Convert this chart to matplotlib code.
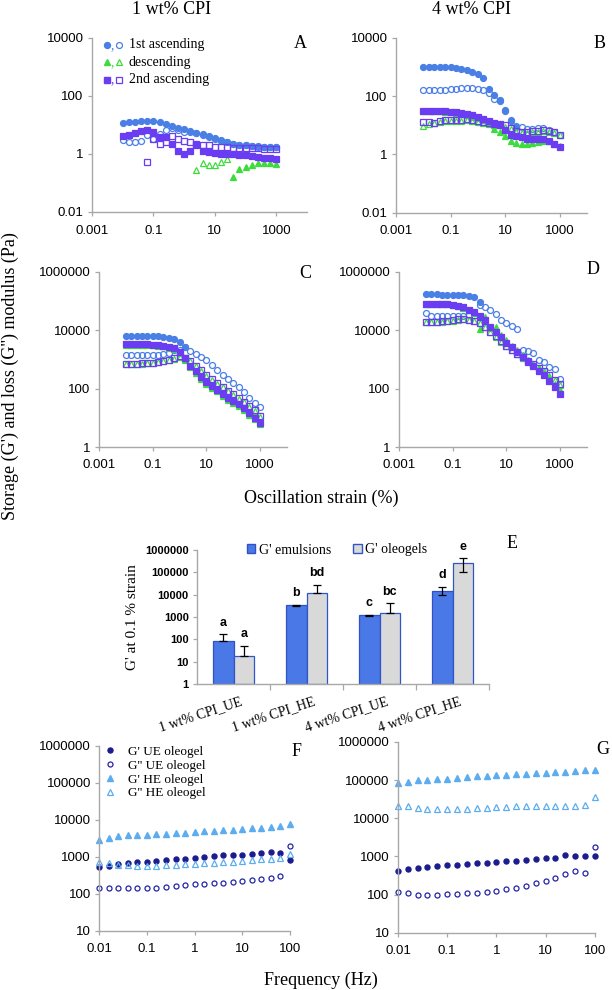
import numpy as np
import matplotlib.pyplot as plt
from matplotlib.ticker import FixedLocator, FixedFormatter, NullLocator
from matplotlib.patches import Patch

nan = np.nan
SERIF = 'Liberation Serif'
SANS = 'Liberation Sans'
plt.rcParams['font.family'] = SANS

# ---- x grids ----
strain = [0.01, 0.0158, 0.0251, 0.0398, 0.0631, 0.1, 0.158, 0.251, 0.398, 0.631,
          1.0, 1.58, 2.51, 3.98, 6.31, 10.0, 15.8, 25.1, 39.8, 63.1,
          100.0, 158, 251, 398, 631, 1000]
freq = [0.01, 0.0158, 0.0251, 0.0398, 0.0631, 0.1, 0.158, 0.251, 0.398, 0.631,
        1.0, 1.58, 2.51, 3.98, 6.31, 10.0, 15.8, 25.1, 39.8, 63.1, 100.0]

# ---- panel A: 1 wt% CPI emulsion ----
a_asc1_g1 = [11.5, 12.5, 13, 13.5, 14, 14, 13, 11, 9.2, 8.0, 7.0, 6.0, 5.5, 5.0, 4.2, 3.6,
             3.0, 2.6, 2.3, 2.1, 2.0, 1.9, 1.9, 1.8, 1.8, 1.8]
a_asc1_g2 = [3.0, 2.6, 2.6, 2.7, 4.4, 3.4, 5.0, 6.7, 7.7, 6.8, 5.9, 5.6, 5.2, 4.6, 4.0, 3.2,
             2.8, 2.5, 2.3, 2.1, 2.0, 1.9, 1.8, 1.8, 1.7, 1.7]
a_desc_g1 = [nan] * 18 + [0.16, 0.3, 0.37, 0.42, 0.48, 0.5, 0.48, 0.45]
a_desc_g2 = [nan] * 12 + [0.27, 0.48, 0.42, 0.42, 0.52, 0.65] + [nan] * 8
a_asc2_g1 = [4.2, 4.6, 5.5, 6.2, 6.9, 5.9, 4.0, 3.8, 2.2, 1.3, 1.0, 1.3, 2.0, 1.3, 1.2, 1.1,
             1.0, 1.0, 1.0, 0.95, 0.9, 0.85, 0.8, 0.75, 0.7, 0.65]
a_asc2_g2 = [nan] * 4 + [0.55, 3.2, 2.2, 2.6, 4.2, 3.3, 2.8, 2.5, 2.2, 2.0, 2.0, 1.8,
                         1.7, 1.7, 1.6, 1.6, 1.6, 1.6, 1.6, 1.5, 1.5, 1.5]

# ---- panel B: 4 wt% CPI emulsion ----
b_asc1_g1 = [1000, 1000, 1000, 1000, 1000, 990, 935, 860, 770, 680, 590, 425, 178, 113, 76, 33,
             14.6, 8.9] + [nan] * 8
b_asc1_g2 = [160, 158, 160, 165, 168, 172, 178, 186, 190, 190, 182, 168, 130, 81, 67, 30,
             15.8, 9.8, 8.9, 7.7, 7.7, 8.0, 8.0, 7.0, 5.8, 4.7]
b_desc_g1 = [30, 30, 30, 30, 29, 28, 27, 25, 23, 20, 18, 15, 12, 7.5, 5.8, 4.2,
             3.0, 2.4, 2.2, 2.2, 2.4, 2.7, 3.0, 2.8, 2.3, 1.9]
b_desc_g2 = [9.3, 11, 12, 13, 14, 14.5, 14.5, 14.5, 15, 14, 13, 12, 11.5, 10.5, 10, 9,
             7.5, 6, 5.5, 5.5, 5.8, 6.0, 6.5, 6.0, 5.5, 4.5]
b_asc2_g1 = [32, 32, 32, 31.5, 30, 29, 28, 27, 25, 23, 20, 16, 14, 12, 10.5, 7.2,
             4.8, 4.3, 4.0, 3.5, 3.5, 3.5, 3.3, 3.0, 2.2, 1.8]
b_asc2_g2 = [12.7, 12.9, 12.5, 14.6, 15.5, 15.5, 15, 15, 16.6, 15, 14, 12.7, 12.5, 11, 11, 10,
             8, 6.5, 5.9, 5.9, 6.2, 6.3, 6.9, 6.3, 5.8, 4.6]

# ---- panel C: 1 wt% CPI oleogel ----
c_asc1_g1 = [6500, 6500, 6500, 6400, 6400, 6300, 6200, 6000, 5600, 5000, 4000, 2700] + [nan] * 14
c_asc1_g2 = [1400, 1400, 1400, 1400, 1420, 1450, 1450, 1500, 1700, 2100, 2200, 2600, 2000, 1500,
             1200, 950, 650, 420, 290, 210, 160, 110, 75, 48, 33, 24]
c_desc_g1 = [3200, 3200, 3150, 3100, 3100, 3050, 3000, 2800, 2500, 2300, 1650, 950, 540, 340,
             215, 145, 108, 80, 56, 42, 32, 25, 18, 13, 9, 6]
c_desc_g2 = [680, 690, 700, 720, 740, 760, 800, 880, 980, 1080, 1250, 1100, 860, 590, 400, 275,
             200, 148, 110, 80, 60, 45, 34, 24, 17, 11]
c_asc2_g1 = [3400, 3400, 3350, 3300, 3300, 3250, 3200, 3000, 2700, 2500, 1830, 1100, 620, 400,
             250, 165, 125, 92, 65, 48, 37, 29, 21, 15, 10, 6.8]
c_asc2_g2 = [700, 700, 720, 740, 760, 780, 820, 900, 1000, 1100, 1300, 1150, 900, 620, 420, 290,
             210, 155, 115, 85, 64, 48, 36, 26, 18, 12]

# ---- panel D: 4 wt% CPI oleogel ----
d_asc1_g1 = [170000, 170000, 170000, 168000, 166000, 165000, 162000, 158000, 152000, 140000,
             92000] + [nan] * 15
d_asc1_g2 = [38000, 31000, 32000, 32000, 31000, 31000, 31000, 32000, 33000, 38000, 73000, 62000,
             49000, 36000, 23500, 17400, 14500, 11500, 2200, 2000, 1620, 1000, 830, 540, 460, 209]
d_desc_g1 = [80000, 80000, 79000, 78000, 77000, 74000, 68000, 60000, 48000, 40000, 11500, 29000,
             12000, 13000, 7000, 4500, 3000, 2100, 1450, 1000, 700, 500, 350, 230, 150, 90]
d_desc_g2 = [19000, 19000, 19500, 20000, 20500, 21000, 23000, 24000, 22500, 20500, 17500, 13000,
             8500, 6000, 4100, 2900, 2050, 1550, 1150, 870, 680, 500, 390, 280, 195, 135]
d_asc2_g1 = [83000, 83000, 82000, 81000, 80000, 76000, 70000, 63000, 51000, 43000, 31000, 22400,
             13200, 8900, 5700, 3700, 2600, 1830, 1230, 830, 590, 410, 295, 186, 117, 66]
d_asc2_g2 = [19500, 19500, 20000, 20500, 21000, 22000, 24000, 25000, 23000, 21000, 18000, 13500,
             8800, 6200, 4200, 3000, 2100, 1600, 1200, 900, 700, 520, 400, 290, 200, 140]

# ---- panel E: G' at 0.1 % strain ----
e_groups = ['1 wt% CPI_UE', '1 wt% CPI_HE', '4 wt% CPI_UE', '4 wt% CPI_HE']
e_emul = [85, 3400, 1180, 14800]
e_emul_lo = [0, 150, 50, 5000]
e_emul_hi = [85, 150, 50, 7600]
e_emul_txt = ['a', 'b', 'c', 'd']
e_oleo = [16.5, 11500, 1560, 270000]
e_oleo_lo = [0, 0, 0, 170000]
e_oleo_hi = [34, 17000, 2500, 165000]
e_oleo_txt = ['a', 'bd', 'bc', 'e']

# ---- panels F, G: frequency sweeps ----
f_ue_g1 = [540, 560, 620, 660, 730, 730, 780, 830, 850, 870, 940, 960, 1050, 1080, 1100, 1120,
           1180, 1280, 1350, 1280, 800]
f_ue_g2 = [140, 140, 140, 140, 145, 145, 145, 155, 160, 170, 180, 180, 190, 200, 210, 220,
           240, 250, 270, 300, 1900]
f_he_g1 = [2800, 3300, 3600, 3800, 3800, 3900, 4100, 4200, 4400, 4500, 4700, 4800, 5000, 5200,
           5300, 5500, 5800, 6100, 6300, 6600, 7600]
f_he_g2 = [730, 660, 600, 600, 570, 565, 565, 590, 600, 620, 640, 660, 680, 700, 720, 760,
           800, 850, 880, 900, 1180]
g_ue_g1 = [425, 460, 490, 520, 560, 600, 610, 640, 660, 690, 700, 750, 780, 810, 860, 890,
           930, 1100, 1030, 1040, 1000]
g_ue_g2 = [115, 108, 100, 100, 100, 103, 105, 108, 112, 120, 127, 137, 150, 171, 195, 230,
           270, 340, 415, 360, 1740]
g_he_g1 = [83000, 92000, 98000, 103000, 107000, 110000, 116000, 121000, 126000, 131000, 134000,
           140000, 143000, 146000, 152000, 155000, 162000, 165000, 172000, 179000, 190000]
g_he_g2 = [20500, 21500, 19000, 18000, 18000, 17500, 17500, 18000, 18500, 19000, 19500, 20000,
           20500, 20500, 21000, 21000, 21500, 21500, 21500, 22000, 36000]

BLUE = '#4a7fe6'
GREEN = '#3ddc3d'
PURPLE = '#6a3cf2'
NAVY = '#1c1c8e'
SKY = '#5cadf0'
AXC = '#a8a8a8'

fig = plt.figure(figsize=(6.12, 9.9), dpi=100)


def px_axes(l, t, r, b):
    return fig.add_axes([l / 612, 1 - b / 990, (r - l) / 612, (b - t) / 990])


def style(ax, xt, xtl, yt, ytl, xlim, ylim, fs=9.5, logx=True, bold=False):
    if logx:
        ax.set_xscale('log')
    ax.set_yscale('log')
    ax.set_xlim(xlim)
    ax.set_ylim(ylim)
    if xt is not None:
        ax.xaxis.set_major_locator(FixedLocator(xt))
        ax.xaxis.set_major_formatter(FixedFormatter(xtl))
        ax.xaxis.set_minor_locator(NullLocator())
    ax.yaxis.set_major_locator(FixedLocator(yt))
    ax.yaxis.set_major_formatter(FixedFormatter(ytl))
    ax.yaxis.set_minor_locator(NullLocator())
    for s in ['top', 'right']:
        ax.spines[s].set_visible(False)
    for s in ['left', 'bottom']:
        ax.spines[s].set_color(AXC)
        ax.spines[s].set_linewidth(1.0)
    ax.tick_params(axis='both', direction='out', length=3, width=0.9, color=AXC,
                   labelsize=fs, labelcolor='black')
    ax.tick_params(axis='x', pad=6)
    ax.tick_params(axis='y', pad=3)
    for lab in ax.get_xticklabels() + ax.get_yticklabels():
        lab.set_family(SANS)
        if bold:
            lab.set_fontweight('bold')
    ax.patch.set_alpha(0)


def sweep(ax, data):
    specs = [(BLUE, 'o', True, 4.3), (BLUE, 'o', False, 4.3),
             (GREEN, '^', True, 5.0), (GREEN, '^', False, 5.0),
             (PURPLE, 's', True, 4.3), (PURPLE, 's', False, 4.3)]
    for y, (c, m, filled, ms) in zip(data, specs):
        ax.plot(strain, y, ls='none', marker=m, ms=ms, mec=c, mew=0.9,
                mfc=c if filled else 'none', clip_on=False)


sx = [0.001, 0.1, 10, 1000]
sxl = ['0.001', '0.1', '10', '1000']

axA = px_axes(92, 38, 307, 212)
sweep(axA, [a_asc1_g1, a_asc1_g2, a_desc_g1, a_desc_g2, a_asc2_g1, a_asc2_g2])
style(axA, sx, sxl, [0.01, 1, 100, 10000], ['0.01', '1', '100', '10000'], (0.001, 10000), (0.01, 10000))

axB = px_axes(396, 38, 587, 212.7)
sweep(axB, [b_asc1_g1, b_asc1_g2, b_desc_g1, b_desc_g2, b_asc2_g1, b_asc2_g2])
style(axB, sx, sxl, [0.01, 1, 100, 10000], ['0.01', '1', '100', '10000'], (0.001, 10000), (0.01, 10000))

axC = px_axes(99, 272, 287, 447)
sweep(axC, [c_asc1_g1, c_asc1_g2, c_desc_g1, c_desc_g2, c_asc2_g1, c_asc2_g2])
style(axC, sx, sxl, [1, 100, 10000, 1000000], ['1', '100', '10000', '1000000'], (0.001, 10000), (1, 1e6))

axD = px_axes(399, 272, 587, 447)
sweep(axD, [d_asc1_g1, d_asc1_g2, d_desc_g1, d_desc_g2, d_asc2_g1, d_asc2_g2])
style(axD, sx, sxl, [1, 100, 10000, 1000000], ['1', '100', '10000', '1000000'], (0.001, 10000), (1, 1e6))

# legend of panel A (marker, comma, marker, label)
leg_rows = [(BLUE, 'o', 4.3, '1st ascending'), (GREEN, '^', 5.0, 'descending'),
            (PURPLE, 's', 4.3, '2nd ascending')]
for k, (c, m, ms, lab) in enumerate(leg_rows):
    yy = 0.960 - 0.100 * k
    axA.plot([0.068], [yy], transform=axA.transAxes, marker=m, ms=ms, mfc=c, mec=c, clip_on=False)
    axA.text(0.094, yy - 0.022, ',', transform=axA.transAxes, color=c, fontsize=10,
             family=SERIF, ha='center', va='baseline')
    axA.plot([0.124], [yy], transform=axA.transAxes, marker=m, ms=ms, mfc='none', mec=c,
             mew=0.9, clip_on=False)
    axA.text(0.172, yy, lab, transform=axA.transAxes, fontsize=10, family=SERIF,
             ha='left', va='center')

# ---- panel E ----
axE = px_axes(197, 550, 489, 684)
xpos = np.arange(len(e_groups))
w = 0.28
axE.bar(xpos - w / 2, e_emul, w, bottom=1, color='#4a78e6', edgecolor='#2f52c4', linewidth=0.9,
        yerr=[e_emul_lo, e_emul_hi], capsize=3, error_kw=dict(elinewidth=0.9, capthick=0.9, ecolor='black'),
        label="G' emulsions")
axE.bar(xpos + w / 2, e_oleo, w, bottom=1, color='#d9d9d9', edgecolor='#2f55c8', linewidth=0.9,
        yerr=[e_oleo_lo, e_oleo_hi], capsize=3, error_kw=dict(elinewidth=0.9, capthick=0.9, ecolor='black'),
        label="G' oleogels")
for xi, v, hi, t in zip(xpos - w / 2, e_emul, e_emul_hi, e_emul_txt):
    axE.annotate(t, (xi, v + hi), xytext=(0, 4), textcoords='offset points', ha='center',
                 va='bottom', fontsize=9, fontweight='bold', family=SANS)
for xi, v, hi, t in zip(xpos + w / 2, e_oleo, e_oleo_hi, e_oleo_txt):
    axE.annotate(t, (xi, v + hi), xytext=(0, 4), textcoords='offset points', ha='center',
                 va='bottom', fontsize=9, fontweight='bold', family=SANS)
style(axE, None, None, [1, 10, 100, 1000, 10000, 100000, 1000000],
      ['1', '10', '100', '1000', '10000', '100000', '1000000'], (-0.5, 3.5), (1, 1e6),
      fs=8, logx=False, bold=True)
axE.set_xticks(xpos + 0.08)
axE.set_xticklabels(e_groups, rotation=18, ha='right', va='top', rotation_mode='anchor',
                    family=SERIF, fontsize=10)
axE.set_xticks([0.5, 1.5, 2.5, 3.5], minor=True)
axE.tick_params(axis='x', which='major', length=0, pad=8)
axE.tick_params(axis='x', which='minor', length=4, width=0.9, color=AXC, direction='out')
for lab in axE.get_xticklabels():
    lab.set_fontweight('normal')
axE.set_ylabel("G' at 0.1 % strain", family=SERIF, fontsize=11, labelpad=4)
axE.legend(handles=[Patch(facecolor='#4a78e6', edgecolor='#2f52c4'),
                    Patch(facecolor='#d9d9d9', edgecolor='#2f55c8')],
           labels=["G' emulsions", "G' oleogels"], ncol=2, loc='center',
           bbox_to_anchor=(0.48, 1.0), frameon=False, prop=dict(family=SERIF, size=10),
           handlelength=0.6, handleheight=0.6, handletextpad=0.25, columnspacing=1.6)

# ---- panels F and G ----
fx = [0.01, 0.1, 1, 10, 100]
fxl = ['0.01', '0.1', '1', '10', '100']
fy = [10, 100, 1000, 10000, 100000, 1000000]
fyl = ['10', '100', '1000', '10000', '100000', '1000000']


def freq_panel(ax, ue1, ue2, he1, he2, legend=False):
    h1, = ax.plot(freq, ue1, ls='none', marker='o', ms=3.6, mfc=NAVY, mec=NAVY, clip_on=False)
    h2, = ax.plot(freq, ue2, ls='none', marker='o', ms=3.6, mfc='none', mec='#2323a8', mew=0.9, clip_on=False)
    h3, = ax.plot(freq, he1, ls='none', marker='^', ms=4.6, mfc=SKY, mec=SKY, clip_on=False)
    h4, = ax.plot(freq, he2, ls='none', marker='^', ms=4.6, mfc='none', mec=SKY, mew=0.9, clip_on=False)
    style(ax, fx, fxl, fy, fyl, (0.01, 100), (10, 1e6))
    if legend:
        ax.legend([h1, h2, h3, h4], ["G' UE oleogel", "G'' UE oleogel", "G' HE oleogel", "G'' HE oleogel"],
                  loc='upper left', bbox_to_anchor=(0.02, 1.0), frameon=False, borderpad=0,
                  borderaxespad=0, prop=dict(family=SERIF, size=9.5), handlelength=1.0,
                  handletextpad=0.9, labelspacing=0.12)


axF = px_axes(99.3, 745.7, 290, 930.7)
freq_panel(axF, f_ue_g1, f_ue_g2, f_he_g1, f_he_g2, legend=True)
axG = px_axes(398, 742, 594.7, 932.7)
freq_panel(axG, g_ue_g1, g_ue_g2, g_he_g1, g_he_g2)

# ---- figure texts ----
def ftext(x, y, s, **kw):
    fig.text(x / 612, 1 - y / 990, s, family=SERIF, ha='center', va='center', **kw)


ftext(172, 9, '1 wt% CPI', fontsize=13)
ftext(472, 9, '4 wt% CPI', fontsize=13)
for letter, x, y in [('A', 300, 43), ('B', 600, 43), ('C', 305, 273), ('D', 593, 270),
                     ('E', 512, 544), ('F', 297, 752), ('G', 603, 750)]:
    ftext(x, y, letter, fontsize=13)
ftext(10, 376, "Storage (G') and loss (G'') modulus (Pa)", fontsize=13, rotation=90)
ftext(321, 498, 'Oscillation strain (%)', fontsize=13)
ftext(321, 980, 'Frequency (Hz)', fontsize=13)

fig.savefig('out.png', dpi=100)
